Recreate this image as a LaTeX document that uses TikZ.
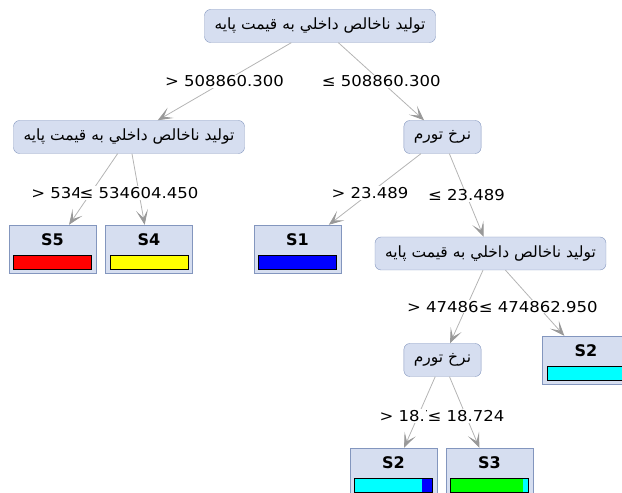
\documentclass[tikz,border=0pt]{standalone}
\usepackage{fontspec}
\setmainfont{DejaVu Sans}
\newfontfamily\fafont[Script=Arabic]{DejaVu Sans}
\newfontfamily\condfont[FakeStretch=1.1]{DejaVu Sans}
\TeXXeTstate=1
\usetikzlibrary{arrows.meta,calc}

\definecolor{nodefill}{HTML}{D6DEF0}
\definecolor{nodeline}{HTML}{8396BE}
\definecolor{edgegray}{HTML}{B4B4B4}
\definecolor{barcyan}{HTML}{00FFFF}
\definecolor{bargreen}{HTML}{00FF00}
\definecolor{barblue}{HTML}{0000FF}
\definecolor{barred}{HTML}{FF0000}
\definecolor{baryellow}{HTML}{FFFF00}

\tikzstyle{attr}=[draw=nodeline,fill=nodefill,rounded corners=6pt,minimum height=33pt,inner xsep=10pt,font=\fafont\fontsize{15.5}{15.5}\selectfont]
\tikzstyle{leaf}=[draw=nodeline,fill=nodefill,minimum width=87pt,minimum height=48pt]
\tikzstyle{leaftitle}=[font=\bfseries\fontsize{16}{16}\selectfont]
\tikzstyle{edge}=[draw=edgegray,line width=0.8pt,-{Stealth[length=15pt,width=12pt,inset=8pt,color=black!40]}]
\tikzstyle{cond}=[fill=white,inner sep=1pt,font=\condfont\fontsize{15}{15}\selectfont]
\tikzstyle{bar}=[draw=black,line width=0.9pt]

\newcommand{\fa}[1]{\beginR #1\endR}

\begin{document}
\begin{tikzpicture}[x=1pt,y=1pt]

   \useasboundingbox (0,0) rectangle (622,493);
   \clip (0,0) rectangle (622,493);

   % attribute nodes
   \node[attr] (root) at (320,467) {\fa{تولید ناخالص داخلي به قیمت پایه}};
   \node[attr] (n1) at (129,356) {\fa{تولید ناخالص داخلي به قیمت پایه}};
   \node[attr] (n2) at (442.5,356) {\fa{نرخ تورم}};
   \node[attr] (n3) at (490.5,239.5) {\fa{تولید ناخالص داخلي به قیمت پایه}};
   \node[attr] (n4) at (442.5,133) {\fa{نرخ تورم}};

% leaves
   \node[leaf] (s5) at (52.5,244) {};
   \node[leaf] (s4) at (149,244) {};
   \node[leaf] (s1) at (297.5,244) {};
   \node[leaf] (s2a) at (586,133) {};
   \node[leaf] (s2b) at (393.5,21) {};
   \node[leaf] (s3) at (489.5,21) {};

   \node[leaftitle] (s5t) at ($(s5)+(0,9)$) {S5};
   \node[leaftitle] (s4t) at ($(s4)+(0,9)$) {S4};
   \node[leaftitle] (s1t) at ($(s1)+(0,9)$) {S1};
   \node[leaftitle] (s2at) at ($(s2a)+(0,9)$) {S2};
   \node[leaftitle] (s2bt) at ($(s2b)+(0,9)$) {S2};
   \node[leaftitle] (s3t) at ($(s3)+(0,9)$) {S3};

   \fill[barred] ($(s5)+(-39,-6)$) rectangle ($(s5)+(39,-20)$);
   \fill[baryellow] ($(s4)+(-39,-6)$) rectangle ($(s4)+(39,-20)$);
   \fill[barblue] ($(s1)+(-39,-6)$) rectangle ($(s1)+(39,-20)$);
   \fill[barcyan] ($(s2a)+(-39,-6)$) rectangle ($(s2a)+(39,-20)$);
   \fill[barcyan] ($(s2b)+(-39,-6)$) rectangle ($(s2b)+(28,-20)$);
   \fill[barblue] ($(s2b)+(28,-6)$) rectangle ($(s2b)+(39,-20)$);
   \fill[bargreen] ($(s3)+(-39,-6)$) rectangle ($(s3)+(33,-20)$);
   \fill[barcyan] ($(s3)+(33,-6)$) rectangle ($(s3)+(39,-20)$);
   \foreach \l in {s5,s4,s1,s2a,s2b,s3}
      \draw[bar] ($(\l)+(-39,-6)$) rectangle ($(\l)+(39,-20)$);

   % branches
   \draw[edge] (root) -- (n1);
   \draw[edge] (root) -- (n2);
   \draw[edge] (n1) -- (s5);
   \draw[edge] (n1) -- (s4);
   \draw[edge] (n2) -- (s1);
   \draw[edge] (n2) -- (n3);
   \draw[edge] (n3) -- (n4);
   \draw[edge] (n3) -- (s2a);
   \draw[edge] (n4) -- (s2b);
   \draw[edge] (n4) -- (s3);

   \node[cond] (c1) at ($(root)!.5!(n1)$) {> 508860.300};
   \node[cond] (c2) at ($(root)!.5!(n2)$) {≤ 508860.300};
   \node[cond] (c3) at ($(n1)!.5!(s5)$) {> 534604.450};
   \node[cond] (c4) at ($(n1)!.5!(s4)$) {≤ 534604.450};
   \node[cond] (c5) at ($(n2)!.5!(s1)$) {> 23.489};
   \node[cond] (c6) at ($(n2)!.5!(n3)$) {≤ 23.489};
   \node[cond] (c7) at ($(n3)!.5!(n4)$) {> 474862.950};
   \node[cond] (c8) at ($(n3)!.5!(s2a)$) {≤ 474862.950};
   \node[cond] (c9) at ($(n4)!.5!(s2b)$) {> 18.724};
   \node[cond] (c10) at ($(n4)!.5!(s3)$) {≤ 18.724};

\end{tikzpicture}
\end{document}
